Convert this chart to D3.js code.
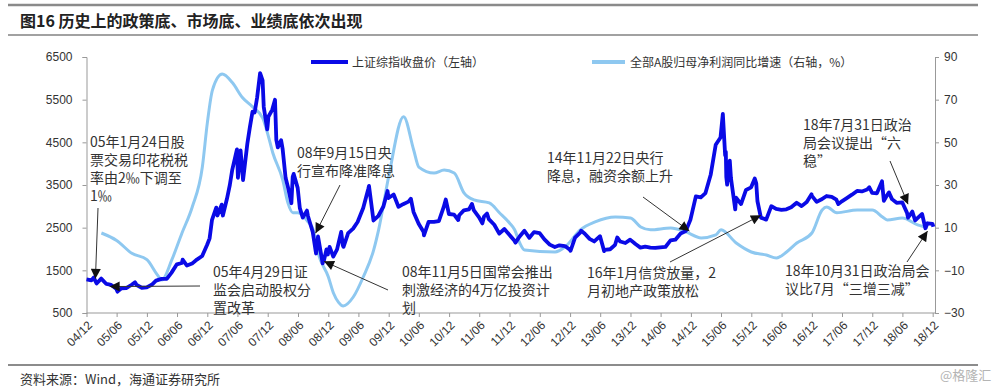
<!DOCTYPE html>
<html>
<head>
<meta charset="utf-8">
<script src="https://cdn.jsdelivr.net/npm/d3@7"></script>
<style>
  body { margin: 0; background: #fff; }
  svg text { font-family: "Noto Sans CJK SC", "Liberation Sans", sans-serif; }
  .axis text { font-family: "Liberation Sans", Arial, sans-serif; font-size: 12px; fill: #333; }
  .axis path, .axis line { stroke: #999; }
</style>
</head>
<body>
<svg id="chart" width="1000" height="389"></svg>
<script>
// 上证综指收盘价 (left axis), one row per year
const indexDates = [
  "2004-12-01","2004-12-31",
  "2005-01-14","2005-01-31","2005-02-28","2005-03-31","2005-04-29","2005-05-31","2005-06-06","2005-06-30","2005-07-29","2005-08-31","2005-09-20","2005-09-30","2005-10-31","2005-11-30","2005-12-30",
  "2006-01-25","2006-02-28","2006-03-31","2006-04-28","2006-05-31","2006-06-30","2006-07-05","2006-07-31","2006-08-31","2006-09-29","2006-10-31","2006-11-30","2006-12-15","2006-12-29",
  "2007-01-24","2007-01-31","2007-02-26","2007-02-28","2007-03-05","2007-03-30","2007-04-16","2007-04-30","2007-05-29","2007-05-31","2007-06-04","2007-06-20","2007-07-05","2007-07-31","2007-08-15","2007-08-31","2007-09-13","2007-09-28","2007-10-16","2007-10-31","2007-11-07","2007-11-28","2007-11-30","2007-12-05","2007-12-28",
  "2008-01-14","2008-01-22","2008-01-31","2008-02-20","2008-02-29","2008-03-18","2008-03-31","2008-04-22","2008-04-30","2008-05-06","2008-05-30","2008-06-12","2008-06-30","2008-07-25","2008-07-31","2008-08-29","2008-09-18","2008-09-30","2008-10-28","2008-10-31","2008-11-04","2008-11-20","2008-11-28","2008-12-09","2008-12-31",
  "2009-01-23","2009-02-17","2009-02-27","2009-03-03","2009-03-31","2009-04-30","2009-05-27","2009-06-30","2009-07-31","2009-08-04","2009-08-31","2009-09-30","2009-10-30","2009-11-24","2009-11-30","2009-12-31",
  "2010-01-29","2010-02-26","2010-03-31","2010-04-14","2010-04-30","2010-05-31","2010-06-30","2010-07-02","2010-07-30","2010-08-31","2010-09-30","2010-10-29","2010-11-11","2010-11-30","2010-12-31",
  "2011-01-25","2011-01-31","2011-02-28","2011-03-31","2011-04-18","2011-04-29","2011-05-31","2011-06-20","2011-06-30","2011-07-18","2011-07-29","2011-08-31","2011-09-30","2011-10-31","2011-11-30","2011-12-30",
  "2012-01-06","2012-01-31","2012-02-29","2012-03-30","2012-04-27","2012-05-31","2012-06-29","2012-07-31","2012-08-31","2012-09-28","2012-10-31","2012-11-30","2012-12-04","2012-12-31",
  "2013-01-31","2013-02-06","2013-02-28","2013-03-29","2013-04-26","2013-05-31","2013-06-25","2013-06-28","2013-07-31","2013-08-30","2013-09-12","2013-09-30","2013-10-31","2013-11-29","2013-12-31",
  "2014-01-30","2014-02-28","2014-03-31","2014-04-30","2014-05-30","2014-06-30","2014-07-31","2014-08-29","2014-09-30","2014-10-31","2014-11-28","2014-12-31",
  "2015-01-30","2015-02-27","2015-03-31","2015-04-30","2015-05-29","2015-06-12","2015-06-26","2015-06-30","2015-07-03","2015-07-08","2015-07-24","2015-07-31","2015-08-26","2015-08-31","2015-09-30","2015-10-30","2015-11-30","2015-12-22","2015-12-31",
  "2016-01-07","2016-01-28","2016-02-29","2016-03-31","2016-04-29","2016-05-31","2016-06-30","2016-07-29","2016-08-31","2016-09-30","2016-10-31","2016-11-29","2016-11-30","2016-12-30",
  "2017-01-26","2017-02-28","2017-03-31","2017-04-28","2017-05-10","2017-05-31","2017-06-30","2017-07-31","2017-08-31","2017-09-29","2017-10-31","2017-11-13","2017-11-30","2017-12-29",
  "2018-01-29","2018-01-31","2018-02-09","2018-02-28","2018-03-12","2018-03-30","2018-04-27","2018-05-31","2018-06-29","2018-07-05","2018-07-31","2018-08-17","2018-08-31","2018-09-28","2018-10-18","2018-10-31","2018-11-30","2018-12-05"
];
const indexValues = [
  1290,1266,
  1330,1191,1306,1181,1159,1060,1000,1080,1083,1162,1220,1155,1092,1099,1161,
  1258,1299,1298,1440,1641,1672,1750,1612,1658,1752,1837,2099,2250,2675,
  2970,2786,3040,2881,2785,3183,3500,3841,4335,4109,3670,4312,3615,4471,4850,5218,5200,5552,6124,5954,5330,4803,4871,5100,5262,
  5497,4560,4383,4550,4348,3668,3473,3073,3693,3760,3433,2957,2736,2900,2775,2397,1895,2293,1664,1729,1719,1990,1871,2050,1821,
  1990,2400,2082,2050,2373,2477,2633,2959,3412,3478,2668,2779,2996,3360,3195,3277,
  2989,3051,3110,3180,2870,2592,2398,2320,2638,2638,2656,2979,3159,2820,2808,
  2680,2791,2905,2928,3057,2911,2743,2600,2762,2830,2701,2568,2359,2468,2333,2199,
  2148,2292,2428,2262,2396,2373,2225,2103,2047,2086,2069,1980,1959,2269,
  2385,2430,2359,2237,2177,2301,1950,1979,1994,2098,2270,2175,2141,2220,2116,
  2033,2056,2033,2026,2039,2048,2201,2217,2364,2420,2683,3235,
  3210,3310,3748,4442,4612,5166,4192,4277,3686,3507,4070,3664,2927,3206,3053,3383,3445,3651,3539,
  3125,2735,2688,3004,2938,2917,2930,2979,3085,3005,3100,3282,3250,3104,
  3159,3242,3223,3155,3052,3117,3192,3273,3361,3349,3393,3447,3317,3307,
  3587,3481,3129,3259,3326,3169,3082,3095,2847,2733,2876,2669,2725,2821,2487,2603,2588,2520
];

// 全部A股归母净利润同比增速 (right axis, %)
const profitDates = [
  "2005-03","2005-06","2005-09","2005-12","2006-02","2006-03","2006-05","2006-07","2006-09","2006-11",
  "2006-12","2007-01","2007-03","2007-05","2007-07","2007-09","2007-11","2007-12","2008-01","2008-03",
  "2008-04","2008-05","2008-06","2008-08","2008-09","2008-10","2008-12","2009-01","2009-02","2009-03",
  "2009-05","2009-07","2009-09","2009-10","2009-12","2010-03","2010-05","2010-06","2010-09","2010-11",
  "2011-01","2011-03","2011-05","2011-08","2011-10","2011-12","2012-01","2012-02","2012-03","2012-09",
  "2012-11","2013-02","2013-05","2013-09","2013-12","2014-02","2014-04","2014-08","2014-11","2015-02",
  "2015-05","2015-06","2015-09","2015-12","2016-03","2016-05","2016-07","2016-09","2016-12","2017-02",
  "2017-03","2017-05","2017-09","2017-12","2018-02","2018-03","2018-06","2018-09","2018-11"
];
const profitValues = [
  7.5,4,-2,-5,-12,-14.5,-5,7.5,19.7,38.4,
  59,74.5,82,78,71,66.6,61.4,54,45,32.3,
  21.6,17,17,12.7,9,-2,-13,-20.6,-25,-26.7,
  -22.5,-13,-0.5,9,34,62,46.4,38.4,35.6,37,
  35.6,26.3,23,21.6,17,12.2,9,2.8,-0.5,-1.4,
  1,9,12.7,15,14.5,10.3,9,9.8,8,5.2,
  6.6,9,2.8,-1.4,-2.8,-4.2,-1.4,2.8,7.5,18.3,
  19.7,17,18.3,18.3,15,13.6,14.5,11.3,10
];

const leftTicks = [500, 1500, 2500, 3500, 4500, 5500, 6500];
const rightTicks = [-30, -10, 10, 30, 50, 70, 90];
const xTickLabels = ["04/12","05/06","05/12","06/06","06/12","07/06","07/12","08/06","08/12","09/06",
  "09/12","10/06","10/12","11/06","11/12","12/06","12/12","13/06","13/12","14/06",
  "14/12","15/06","15/12","16/06","16/12","17/06","17/12","18/06","18/12"];

const seriesNames = ["上证综指收盘价（左轴）", "全部A股归母净利润同比增速（右轴，%）"];

// annotations: text lines + target point (date, index value)
const annotations = [
  {lines: ["05年1月24日股", "票交易印花税税", "率由2‰下调至", "1‰"], date: "2005-01-24", value: 1300},
  {lines: ["05年4月29日证", "监会启动股权分", "置改革"], date: "2005-04-20", value: 1120},
  {lines: ["08年9月15日央", "行宣布降准降息"], date: "2008-09-15", value: 2370},
  {lines: ["08年11月5日国常会推出", "刺激经济的4万亿投资计", "划"], date: "2008-11-05", value: 1710},
  {lines: ["14年11月22日央行", "降息，融资余额上升"], date: "2014-11-22", value: 2420},
  {lines: ["16年1月信贷放量，2", "月初地产政策放松"], date: "2016-01-28", value: 2790},
  {lines: ["18年7月31日政治", "局会议提出“六", "稳”"], date: "2018-07-05", value: 3050},
  {lines: ["18年10月31日政治局会", "议比7月“三增三减”"], date: "2018-10-31", value: 2420}
];
// where each label sits and where its arrow starts
const annoLayout = [
  {tx: 90, ty: 147, ax: 98, ay: 208},
  {tx: 213, ty: 277, ax: 200, ay: 286},
  {tx: 297, ty: 158, ax: 340, ay: 185},
  {tx: 402, ty: 277, ax: 388, ay: 290},
  {tx: 547, ty: 163, ax: 643, ay: 197},
  {tx: 587, ty: 278, ax: 670, ay: 262},
  {tx: 803, ty: 130, ax: 890, ay: 161},
  {tx: 785, ty: 276, ax: 907, ay: 262}
];

const parseDay = d3.timeParse("%Y-%m-%d");
const parseMonth = d3.timeParse("%Y-%m");
const parseTick = d3.timeParse("%y/%m");

const svg = d3.select("#chart");
const plot = {left: 86.5, right: 935, top: 57, bottom: 313};

const x = d3.scaleTime()
  .domain([parseDay("2004-12-01"), parseDay("2018-12-15")])
  .range([plot.left, plot.right]);
const yL = d3.scaleLinear().domain([500, 6500]).range([plot.bottom, plot.top]);
const yR = d3.scaleLinear().domain([-30, 90]).range([plot.bottom, plot.top]);

// frame lines and titles
svg.append("line").attr("x1", 8).attr("x2", 978).attr("y1", 5).attr("y2", 5)
  .attr("stroke", "#8a8a8a").attr("stroke-width", 2.5);
svg.append("line").attr("x1", 8).attr("x2", 978).attr("y1", 35).attr("y2", 35)
  .attr("stroke", "#444").attr("stroke-width", 1.2);
svg.append("line").attr("x1", 8).attr("x2", 978).attr("y1", 365).attr("y2", 365)
  .attr("stroke", "#666").attr("stroke-width", 1.5);

svg.append("text").attr("x", 20).attr("y", 27)
  .attr("font-size", 16).attr("font-weight", "bold").attr("fill", "#222")
  .text("图16 历史上的政策底、市场底、业绩底依次出现");
svg.append("text").attr("x", 20).attr("y", 384)
  .attr("font-size", 13).attr("fill", "#333")
  .text("资料来源：Wind，海通证券研究所");
svg.append("text").attr("x", 940).attr("y", 380)
  .attr("font-size", 13).attr("fill", "#b4b4b4")
  .text("@格隆汇");

// axes
svg.append("g").attr("class", "axis")
  .attr("transform", "translate(" + plot.left + ",0)")
  .call(d3.axisLeft(yL).tickValues(leftTicks).tickSize(4).tickPadding(10).tickFormat(d3.format("d")));
svg.append("g").attr("class", "axis")
  .attr("transform", "translate(" + plot.right + ",0)")
  .call(d3.axisRight(yR).tickValues(rightTicks).tickSize(4).tickPadding(5).tickFormat(d3.format("d")));
const xAxis = svg.append("g").attr("class", "axis")
  .attr("transform", "translate(0," + plot.bottom + ")")
  .call(d3.axisBottom(x).tickValues(xTickLabels.map(parseTick)).tickSize(4).tickFormat(d3.timeFormat("%y/%m")));
xAxis.selectAll("text")
  .attr("x", 0).attr("y", 0).attr("dy", "0.35em")
  .attr("text-anchor", "end")
  .attr("transform", "translate(3,10) rotate(-45)");
xAxis.select(".domain").attr("d", "M" + plot.left + ",0H" + plot.right);

// series
const profitData = profitDates.map((d, i) => ({date: parseMonth(d), v: profitValues[i]}));
const indexData = indexDates.map((d, i) => ({date: parseDay(d), v: indexValues[i]}));

svg.append("path").datum(profitData)
  .attr("fill", "none").attr("stroke", "#8ec8f0").attr("stroke-width", 3)
  .attr("stroke-linejoin", "round")
  .attr("d", d3.line().x(d => x(d.date)).y(d => yR(d.v)).curve(d3.curveMonotoneX));

svg.append("path").datum(indexData)
  .attr("fill", "none").attr("stroke", "#0a0ae6").attr("stroke-width", 3.8)
  .attr("stroke-linejoin", "round")
  .attr("d", d3.line().x(d => x(d.date)).y(d => yL(d.v)));

// legend
const legend = [
  {x1: 311, x2: 348, color: "#0a0ae6", w: 4, tx: 352},
  {x1: 592, x2: 625, color: "#8ec8f0", w: 4, tx: 630}
];
legend.forEach((l, i) => {
  svg.append("line").attr("x1", l.x1).attr("x2", l.x2).attr("y1", 62).attr("y2", 62)
    .attr("stroke", l.color).attr("stroke-width", l.w);
  svg.append("text").attr("x", l.tx).attr("y", 66.5)
    .attr("font-size", 12).attr("fill", "#333").text(seriesNames[i]);
});

// annotations with arrows
svg.append("defs").append("marker")
  .attr("id", "arrow").attr("viewBox", "0 0 10 10")
  .attr("refX", 10).attr("refY", 5)
  .attr("markerWidth", 11).attr("markerHeight", 10)
  .attr("markerUnits", "userSpaceOnUse").attr("orient", "auto")
  .append("path").attr("d", "M0,0L10,5L0,10z").attr("fill", "#111");

annotations.forEach((a, i) => {
  const lay = annoLayout[i];
  svg.append("line")
    .attr("x1", lay.ax).attr("y1", lay.ay)
    .attr("x2", x(parseDay(a.date))).attr("y2", yL(a.value))
    .attr("stroke", "#333").attr("stroke-width", 1)
    .attr("marker-end", "url(#arrow)");
  const t = svg.append("text").attr("x", lay.tx).attr("y", lay.ty)
    .attr("font-size", 14).attr("fill", "#333");
  a.lines.forEach((ln, j) => {
    t.append("tspan").attr("x", lay.tx).attr("dy", j === 0 ? 0 : 18).text(ln);
  });
});
</script>
</body>
</html>
